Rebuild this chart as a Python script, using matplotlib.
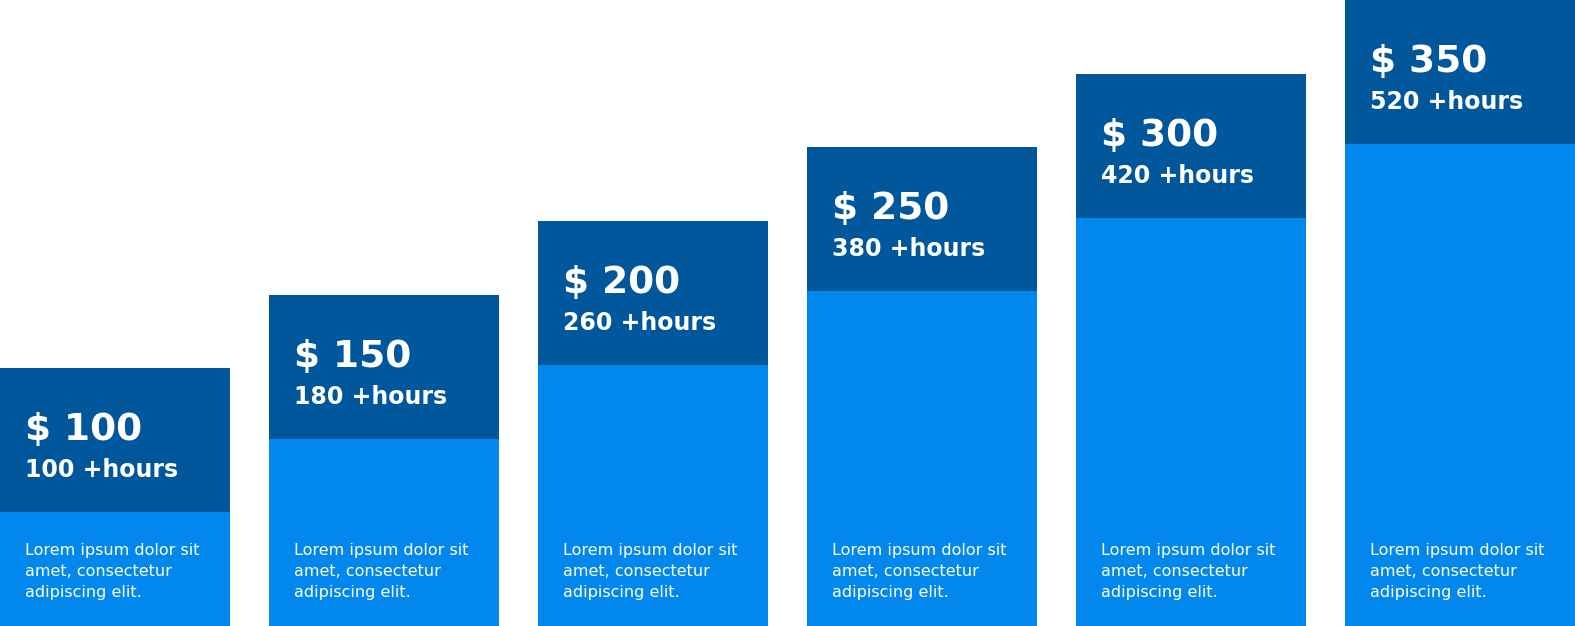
import matplotlib
matplotlib.use("Agg")
import matplotlib.pyplot as plt
import numpy as np

# data
prices = [100, 150, 200, 250, 300, 350]
hours = [100, 180, 260, 380, 420, 520]
bar_tops = [3.5, 4.5, 5.5, 6.5, 7.5, 8.5]   # height of each column
box_height = 1.955                          # dark head box
blurb = "Lorem ipsum dolor sit\namet, consectetur\nadipiscing elit."

dark = "#01579C"
light = "#0288EC"

fig = plt.figure(figsize=(15.75, 6.26), dpi=100)
ax = fig.add_axes([0, 0, 1, 1])

x = np.arange(len(prices))
w = 0.855
tops = np.array(bar_tops)

# light column + dark head on top of it
ax.bar(x, tops, width=w, color=light, linewidth=0)
ax.bar(x, np.full(len(x), box_height), bottom=tops - box_height, width=w,
       color=dark, linewidth=0)

pad = 0.093
for i in range(len(x)):
    left = x[i] - w / 2 + pad
    ax.text(left, tops[i] - 0.98, f"$ {prices[i]}", color="white",
            fontsize=27, fontweight="bold", ha="left", va="baseline")
    ax.text(left, tops[i] - 1.48, f"{hours[i]} +hours", color="white",
            fontsize=17, fontweight="bold", ha="left", va="baseline")
    ax.text(left, 1.13, blurb, color="white", fontsize=11.5,
            ha="left", va="top", linespacing=1.5)

ax.set_xlim(-w / 2, x[-1] + w / 2)
ax.set_ylim(0, tops.max())
ax.axis("off")

fig.savefig("out.png", dpi=100, facecolor="white")
